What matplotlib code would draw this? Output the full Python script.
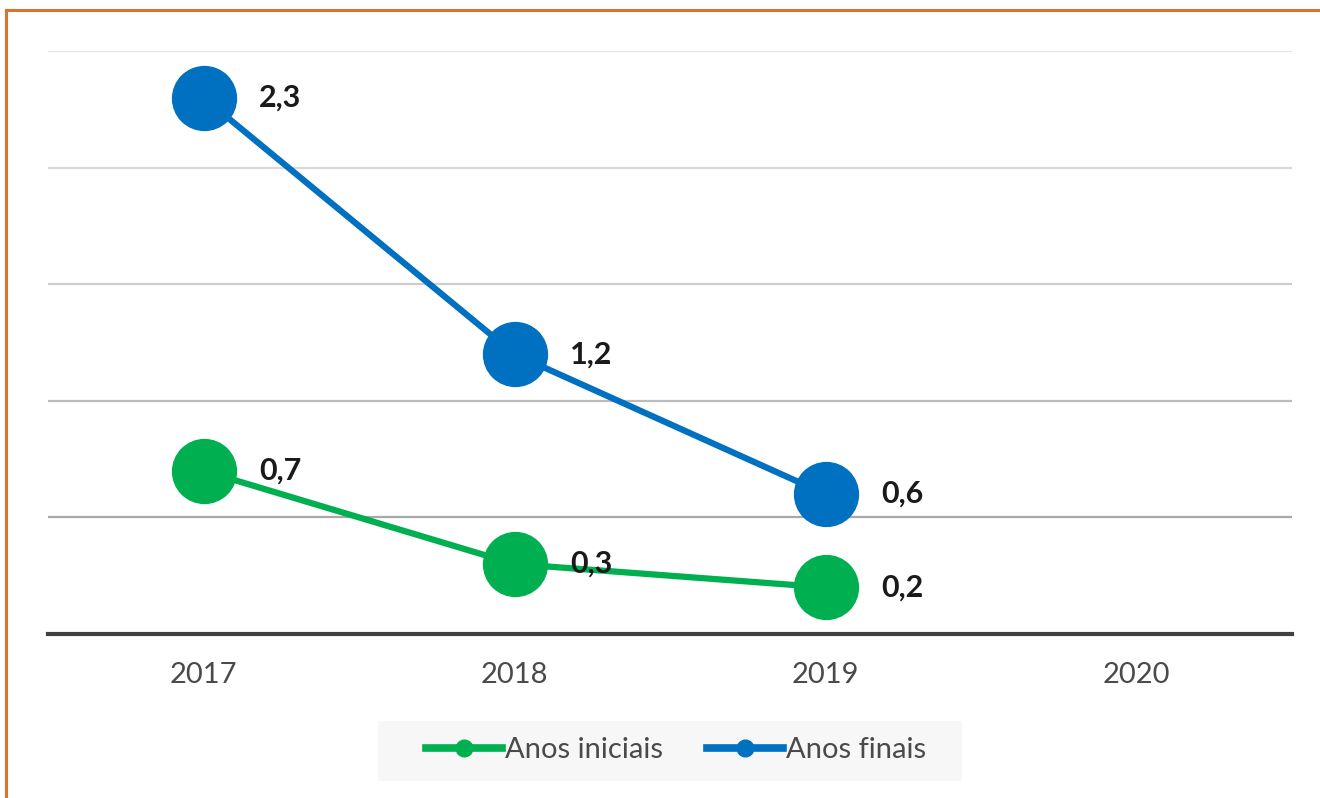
import matplotlib
matplotlib.use("Agg")
import matplotlib.pyplot as plt
from matplotlib.patches import Rectangle
from matplotlib.lines import Line2D

years = ["2017", "2018", "2019", "2020"]
anos_iniciais = [0.7, 0.3, 0.2]
anos_finais = [2.3, 1.2, 0.6]
labels_iniciais = ["0,7", "0,3", "0,2"]
labels_finais = ["2,3", "1,2", "0,6"]
grid_values = [0.5, 1.0, 1.5, 2.0, 2.5]
grid_colors = ["#a8a8a8", "#bcbcbc", "#cdcdcd", "#dadada", "#e4e4e4"]

GREEN = "#00b050"
BLUE = "#0070c0"
plt.rcParams["font.family"] = ["Lato", "DejaVu Sans"]

fig = plt.figure(figsize=(13.2, 7.98), dpi=100)
fig.patch.set_facecolor("white")

# frame edge (top and left) in orange
fig.add_artist(Line2D([6 / 1320, 6 / 1320], [0, 1 - 10 / 798], transform=fig.transFigure,
                      color="#e07030", lw=2.2))
fig.add_artist(Line2D([6 / 1320, 1], [1 - 10 / 798, 1 - 10 / 798], transform=fig.transFigure,
                      color="#e07030", lw=2.2))

ax = fig.add_axes([48 / 1320, 1 - 634 / 798, (1292 - 48) / 1320, 583 / 798])
ax.set_xlim(-0.5, len(years) - 0.5)
ax.set_ylim(0, 2.5)
for s in ax.spines.values():
    s.set_visible(False)

for v, c in zip(grid_values, grid_colors):
    ax.axhline(v, color=c, lw=1.6, zorder=0)
ax.axhline(0, color="#404040", lw=3.0, zorder=1, clip_on=False)

x_i = list(range(len(anos_iniciais)))
x_f = list(range(len(anos_finais)))
ax.plot(x_i, anos_iniciais, color=GREEN, lw=4.5, marker="o", markersize=46,
        label="Anos iniciais", zorder=3, clip_on=False)
ax.plot(x_f, anos_finais, color=BLUE, lw=4.5, marker="o", markersize=46,
        label="Anos finais", zorder=3, clip_on=False)

for xs, ys, labs in [(x_i, anos_iniciais, labels_iniciais), (x_f, anos_finais, labels_finais)]:
    for x, y, t in zip(xs, ys, labs):
        ax.annotate(t, (x, y), xytext=(40, 0), textcoords="offset points",
                    ha="left", va="center", fontsize=22, fontweight="bold",
                    color="#1a1a1a", zorder=4)

ax.set_xticks(range(len(years)))
ax.set_xticklabels(years, fontsize=21, color="#4a4a4a")
ax.tick_params(axis="x", length=0, pad=20)
ax.set_yticks([])

# legend panel
fig.add_artist(Rectangle((378 / 1320, 1 - 781 / 798), (962 - 378) / 1320, 60 / 798,
                         transform=fig.transFigure, facecolor="#f7f7f7",
                         edgecolor="none", zorder=0))
handles = [Line2D([], [], color=GREEN, lw=5.5, marker="o", markersize=12),
           Line2D([], [], color=BLUE, lw=5.5, marker="o", markersize=12)]
fig.legend(handles, ["Anos iniciais", "Anos finais"], loc="center",
           bbox_to_anchor=(676 / 1320, 1 - 750 / 798), ncol=2, frameon=False,
           fontsize=21, handlelength=2.6, handletextpad=0.1, columnspacing=1.5,
           labelcolor="#4a4a4a")

fig.savefig("out.png", dpi=100)
